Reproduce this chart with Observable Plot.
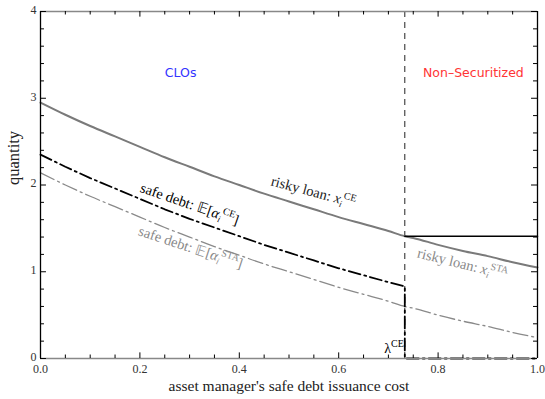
<!DOCTYPE html>
<html>
<head>
<meta charset="utf-8">
<script src="https://cdn.jsdelivr.net/npm/d3@7"></script>
<script src="https://cdn.jsdelivr.net/npm/@observablehq/plot@0.6"></script>
<style>
  html, body { margin: 0; padding: 0; background: #fff; }
  svg { display: block; }
</style>
</head>
<body>
<div id="chart"></div>
<script>
// ---- data ----
const cost = [0, 0.05, 0.1, 0.15, 0.2, 0.25, 0.3, 0.35, 0.4, 0.45, 0.5, 0.55, 0.6, 0.65, 0.7, 0.733, 0.75, 0.8, 0.85, 0.9, 0.95, 1];
const riskyLoan = [2.95, 2.81, 2.68, 2.56, 2.44, 2.32, 2.21, 2.10, 2.00, 1.90, 1.81, 1.72, 1.63, 1.55, 1.47, 1.41, 1.39, 1.31, 1.24, 1.18, 1.11, 1.05];
const safeDebtSTA = [2.14, 2.00, 1.87, 1.75, 1.63, 1.51, 1.40, 1.29, 1.19, 1.09, 1.00, 0.91, 0.82, 0.74, 0.66, 0.60, 0.58, 0.50, 0.43, 0.37, 0.30, 0.24];
const costCE = [0, 0.05, 0.1, 0.15, 0.2, 0.25, 0.3, 0.35, 0.4, 0.45, 0.5, 0.55, 0.6, 0.65, 0.7, 0.733, 0.733, 1];
const safeDebtCE = [2.35, 2.21, 2.08, 1.96, 1.84, 1.72, 1.61, 1.51, 1.41, 1.31, 1.22, 1.13, 1.04, 0.96, 0.88, 0.83, 0, 0];
const lambdaCE = 0.733;
const riskyCEflat = 1.41;

const xTicks = [0, 0.2, 0.4, 0.6, 0.8, 1];
const xTickLabels = ["0.0", "0.2", "0.4", "0.6", "0.8", "1.0"];
const xMinor = [0.05, 0.1, 0.15, 0.25, 0.3, 0.35, 0.45, 0.5, 0.55, 0.65, 0.7, 0.75, 0.85, 0.9, 0.95];
const yTicks = [0, 1, 2, 3, 4];
const yTickLabels = ["0", "1", "2", "3", "4"];
const yMinor = [0.2, 0.4, 0.6, 0.8, 1.2, 1.4, 1.6, 1.8, 2.2, 2.4, 2.6, 2.8, 3.2, 3.4, 3.6, 3.8];

const regionLabels = [
  {x: 0.282, y: 3.29, text: "CLOs", color: "#3434ff"},
  {x: 0.871, y: 3.29, text: "Non\u2013Securitized", color: "#ff3434"}
];
const curveLabels = [
  {key: "L1", x: 0.549, y: 1.92, rotate: 15, color: "#222"},
  {key: "L2", x: 0.300, y: 1.78, rotate: 19, color: "#000"},
  {key: "L3", x: 0.302, y: 1.28, rotate: 18, color: "#8a8a8a"},
  {key: "L4", x: 0.849, y: 1.09, rotate: 14, color: "#8a8a8a"}
];
const labelMarkup = {
  L1: 'risky loan: <tspan font-style="italic">x</tspan><tspan font-style="italic" font-size="9" dy="3">i</tspan><tspan font-size="10" dy="-9">CE</tspan>',
  L2: 'safe debt: \u{1D53C}[<tspan font-style="italic">\u03B1</tspan><tspan font-style="italic" font-size="9" dy="3">i</tspan><tspan font-size="10" dy="-9">CE</tspan><tspan dy="6">]</tspan>',
  L3: 'safe debt: \u{1D53C}[<tspan font-style="italic">\u03B1</tspan><tspan font-style="italic" font-size="9" dy="3">i</tspan><tspan font-size="10" dy="-9">STA</tspan><tspan dy="6">]</tspan>',
  L4: 'risky loan: <tspan font-style="italic">x</tspan><tspan font-style="italic" font-size="9" dy="3">i</tspan><tspan font-size="10" dy="-9">STA</tspan>',
  LAM: '\u03BB<tspan font-size="10" dy="-6">CE</tspan>'
};

const risky = cost.map((c, i) => ({x: c, y: riskyLoan[i]}));
const sta = cost.map((c, i) => ({x: c, y: safeDebtSTA[i]}));
const ce = costCE.map((c, i) => ({x: c, y: safeDebtCE[i]}));
const flat = [{x: lambdaCE, y: riskyCEflat}, {x: 1, y: riskyCEflat}];

const serif = "'Liberation Serif', 'Times New Roman', serif";

const plot = Plot.plot({
  width: 545,
  height: 399,
  marginLeft: 40,
  marginRight: 8,
  marginTop: 11,
  marginBottom: 41,
  style: {fontFamily: serif, background: "#fff", overflow: "visible"},
  x: {domain: [0, 1]},
  y: {domain: [0, 4]},
  marks: [
    Plot.ruleX([lambdaCE], {y1: 0, y2: 4, stroke: "#222", strokeWidth: 1, strokeDasharray: "6,5"}),
    Plot.line(sta, {x: "x", y: "y", stroke: "#8a8a8a", strokeWidth: 1.3, strokeDasharray: "15,4,2,4", curve: "monotone-x"}),
    Plot.line(risky, {x: "x", y: "y", stroke: "#7a7a7a", strokeWidth: 2, curve: "monotone-x"}),
    Plot.line(flat, {x: "x", y: "y", stroke: "#000", strokeWidth: 1.6}),
    Plot.line(ce, {x: "x", y: "y", stroke: "#000", strokeWidth: 1.8, strokeDasharray: "12,4,2,4", curve: "linear"}),
    Plot.ruleY([0], {stroke: "#888", strokeWidth: 1.3}),
    Plot.ruleY([4], {stroke: "#888", strokeWidth: 1.3}),
    Plot.ruleX([0], {stroke: "#000", strokeWidth: 1.3}),
    Plot.ruleX([1], {stroke: "#000", strokeWidth: 1.3}),
    Plot.ruleX(xTicks, {x: d => d, y1: 0, y2: 0.065, stroke: "#000"}),
    Plot.ruleX(xMinor, {x: d => d, y1: 0, y2: 0.04, stroke: "#000"}),
    Plot.ruleX(xTicks, {x: d => d, y1: 4, y2: 3.935, stroke: "#000"}),
    Plot.ruleX(xMinor, {x: d => d, y1: 4, y2: 3.96, stroke: "#000"}),
    Plot.ruleY(yTicks, {y: d => d, x1: 0, x2: 0.012, stroke: "#000"}),
    Plot.ruleY(yMinor, {y: d => d, x1: 0, x2: 0.008, stroke: "#000"}),
    Plot.ruleY(yTicks, {y: d => d, x1: 1, x2: 0.988, stroke: "#000"}),
    Plot.ruleY(yMinor, {y: d => d, x1: 1, x2: 0.992, stroke: "#000"}),
    Plot.axisX({ticks: xTicks, tickFormat: (d, i) => xTickLabels[i], tickSize: 0, tickPadding: 6, fontSize: 12, fill: "#333", label: null, fontFamily: serif}),
    Plot.axisY({ticks: yTicks, tickFormat: (d, i) => yTickLabels[i], tickSize: 0, tickPadding: 4, fontSize: 12, fill: "#333", label: null, dy: -1.5, fontFamily: serif}),
    Plot.text(["asset manager's safe debt issuance cost"], {frameAnchor: "bottom", dy: 32, fontSize: 15.5, fill: "#222", fontFamily: serif}),
    Plot.text(["quantity"], {frameAnchor: "left", dx: -27, rotate: -90, fontSize: 16.5, fill: "#222", fontFamily: serif}),
    Plot.text(regionLabels, {x: "x", y: "y", text: "text", fill: "color", fontSize: 12.5, fontFamily: "'DejaVu Sans', Verdana, sans-serif"}),
    ...curveLabels.map(d => Plot.text([d], {x: "x", y: "y", text: "key", rotate: d.rotate, fill: d.color, fontSize: 14.5, fontFamily: serif})),
    Plot.text([lambdaCE], {x: d => d, y: 0, text: d => "LAM", textAnchor: "end", dx: -1, dy: -10, fontSize: 14, fill: "#000", fontFamily: serif})
  ]
});

plot.querySelectorAll("text").forEach(t => {
  const k = t.textContent.trim();
  if (labelMarkup[k]) t.innerHTML = labelMarkup[k];
});

document.getElementById("chart").appendChild(plot);
</script>
</body>
</html>
